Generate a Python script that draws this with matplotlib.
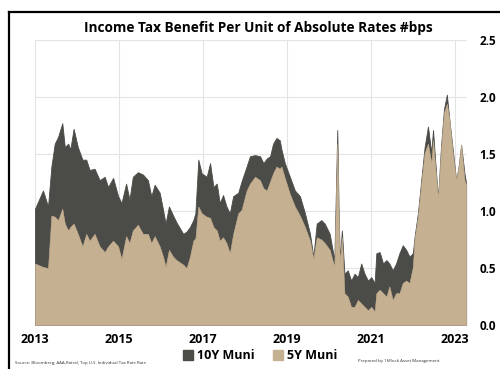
import numpy as np
import matplotlib.pyplot as plt
from matplotlib.lines import Line2D
from matplotlib.patches import Patch

# fechas en años decimales y valores
fechas = [2013.00, 2013.19, 2013.31, 2013.39, 2013.47, 2013.55, 2013.65, 2013.71, 2013.79, 2013.84,
          2013.92, 2014.02, 2014.13, 2014.22, 2014.30, 2014.42, 2014.54, 2014.66, 2014.74, 2014.86,
          2014.98, 2015.06, 2015.17, 2015.25, 2015.33, 2015.45, 2015.57, 2015.69, 2015.77, 2015.85,
          2015.97, 2016.05, 2016.11, 2016.19, 2016.29, 2016.37,
          2016.53, 2016.61, 2016.69, 2016.77, 2016.82, 2016.89, 2016.97, 2017.09, 2017.17, 2017.25,
          2017.33, 2017.40, 2017.48, 2017.56, 2017.64, 2017.72, 2017.84, 2017.92, 2018.04, 2018.12,
          2018.24, 2018.36, 2018.44, 2018.52, 2018.60, 2018.67, 2018.75, 2018.83, 2018.87, 2018.95,
          2019.07, 2019.19, 2019.31, 2019.43, 2019.55, 2019.63, 2019.71,
          2019.82, 2019.90, 2020.02, 2020.13, 2020.20, 2020.23, 2020.26, 2020.31, 2020.37, 2020.45,
          2020.53, 2020.61, 2020.69, 2020.77, 2020.85, 2020.93, 2021.01, 2021.09, 2021.13, 2021.21,
          2021.29, 2021.37, 2021.44, 2021.52, 2021.60, 2021.68, 2021.76, 2021.84, 2021.92, 2022.00,
          2022.04, 2022.12, 2022.20, 2022.28, 2022.36, 2022.44, 2022.48, 2022.56, 2022.60, 2022.67,
          2022.74, 2022.81, 2022.87, 2022.95, 2023.03, 2023.09, 2023.15, 2023.23, 2023.27]

muni_10y = [1.02, 1.18, 1.04, 1.39, 1.59, 1.65, 1.77, 1.56, 1.59, 1.54,
            1.72, 1.56, 1.45, 1.45, 1.36, 1.37, 1.27, 1.30, 1.21, 1.29,
            1.13, 1.07, 1.24, 1.10, 1.30, 1.34, 1.32, 1.27, 1.13, 1.23,
            1.16, 1.01, 0.89, 1.04, 0.96, 0.90,
            0.80, 0.82, 0.86, 0.92, 0.98, 1.45, 1.33, 1.30, 1.42, 1.21,
            1.24, 1.07, 1.14, 1.04, 0.98, 1.13, 1.16, 1.26, 1.39, 1.48,
            1.49, 1.48, 1.42, 1.46, 1.48, 1.59, 1.64, 1.62, 1.54, 1.42,
            1.30, 1.18, 1.13, 0.98, 0.80, 0.60, 0.89,
            0.92, 0.89, 0.80, 0.57, 1.71, 1.04, 0.57, 0.83, 0.45, 0.48,
            0.39, 0.45, 0.42, 0.54, 0.45, 0.39, 0.42, 0.37, 0.63, 0.64,
            0.54, 0.57, 0.54, 0.48, 0.54, 0.63, 0.70, 0.66, 0.60, 0.63,
            0.77, 0.98, 1.27, 1.56, 1.74, 1.51, 1.71, 1.30, 1.11, 1.56,
            1.89, 2.02, 1.80, 1.54, 1.27, 1.39, 1.58, 1.33, 1.24]

muni_5y = [0.54, 0.51, 0.50, 0.96, 0.95, 0.92, 1.02, 0.89, 0.83, 0.86,
           0.89, 0.80, 0.69, 0.80, 0.74, 0.80, 0.69, 0.64, 0.69, 0.74,
           0.69, 0.58, 0.78, 0.72, 0.83, 0.88, 0.80, 0.80, 0.72, 0.78,
           0.69, 0.60, 0.51, 0.66, 0.60, 0.57,
           0.53, 0.50, 0.60, 0.74, 0.76, 1.04, 0.98, 0.95, 0.94, 0.86,
           0.83, 0.74, 0.77, 0.72, 0.63, 0.80, 0.98, 1.01, 1.18, 1.24,
           1.30, 1.27, 1.20, 1.18, 1.26, 1.33, 1.39, 1.37, 1.39, 1.29,
           1.15, 1.04, 0.96, 0.86, 0.74, 0.58, 0.77,
           0.75, 0.72, 0.66, 0.51, 1.59, 0.98, 0.54, 0.77, 0.28, 0.25,
           0.16, 0.16, 0.22, 0.19, 0.16, 0.13, 0.16, 0.12, 0.28, 0.31,
           0.28, 0.25, 0.34, 0.22, 0.28, 0.28, 0.37, 0.39, 0.37, 0.51,
           0.75, 0.95, 1.24, 1.51, 1.59, 1.42, 1.62, 1.27, 1.11, 1.53,
           1.86, 1.94, 1.80, 1.51, 1.27, 1.39, 1.58, 1.27, 1.23]

anios = [2013, 2015, 2017, 2019, 2021, 2023]
niveles = [0.0, 0.5, 1.0, 1.5, 2.0, 2.5]

gris = '#4b4b47'
beige = '#c5b092'

plt.rcParams['font.family'] = ['Open Sans', 'DejaVu Sans']

fig = plt.figure(figsize=(5, 3.69), dpi=100)
ax = fig.add_axes([0.07, 0.119, 0.864, 0.773])

ax.fill_between(fechas, 0, muni_10y, color=gris, linewidth=0.6, edgecolor=gris)
ax.fill_between(fechas, 0, muni_5y, color=beige, linewidth=0.4, edgecolor=beige)

ax.set_xlim(2013, 2023.29)
ax.set_ylim(0, 2.5)
ax.set_xticks(anios)
ax.set_xticklabels([str(a) for a in anios], fontsize=9, fontweight='bold')
ax.set_yticks(niveles)
ax.set_yticklabels(['%.1f' % v for v in niveles], fontsize=8.5, fontweight='bold')
ax.yaxis.tick_right()
ax.tick_params(length=0, pad=9)
ax.tick_params(axis='x', pad=6)
ax.grid(True, color='#e4e4e4', linewidth=0.8)
ax.set_axisbelow(True)
for s in ax.spines.values():
    s.set_visible(False)

# titulo
fig.text(0.517, 0.925, 'Income Tax Benefit Per Unit of Absolute Rates #bps',
         ha='center', va='center', fontsize=9.8, fontweight='bold')

# marco negro
fig.add_artist(Line2D([0.017, 0.017], [0, 0.967], color='black', linewidth=1.6))
fig.add_artist(Line2D([0.017, 1.0], [0.967, 0.967], color='black', linewidth=1.6))

# leyenda
handles = [Patch(color=gris, label='10Y Muni'), Patch(color=beige, label='5Y Muni')]
fig.legend(handles=handles, loc='center', bbox_to_anchor=(0.52, 0.036), ncol=2,
           frameon=False, prop={'size': 9, 'weight': 'bold'},
           handlelength=0.8, handleheight=0.8, handletextpad=0.3, columnspacing=1.5)

fig.text(0.03, 0.013, 'Source: Bloomberg; AAA-Rated; Top U.S. Individual Tax Rate Rate',
         fontsize=3.2, color='#333333')
fig.text(0.715, 0.02, 'Prepared by 16Rock Asset Management', fontsize=3.2, color='#333333')

plt.savefig('out.png', dpi=100)
